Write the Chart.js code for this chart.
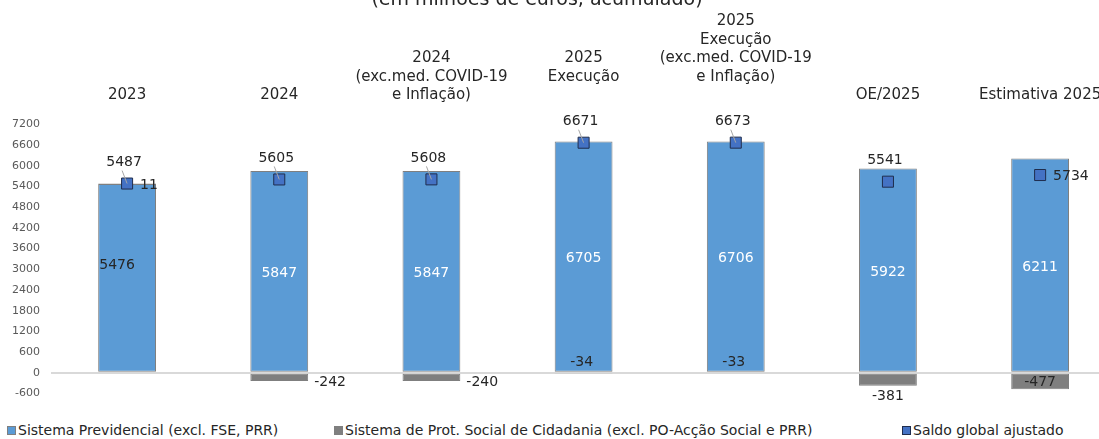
<!DOCTYPE html>
<html lang="pt">
<head>
<meta charset="utf-8">
<title>Saldo global ajustado</title>
<script src="https://cdn.jsdelivr.net/npm/chart.js@4.4.1/dist/chart.umd.min.js"></script>
<style>
    html, body { margin: 0; padding: 0; background: #fff; overflow: hidden; }
    body { width: 1099px; height: 439px; position: relative; font-family: 'DejaVu Sans', sans-serif; }
    #wrap { position: absolute; left: 0; top: -8px; width: 1125px; height: 419px; }
    #legend { position: absolute; left: 0; top: 422px; width: 1099px; height: 16px; font-size: 14px; line-height: 16px; color: #262626; white-space: nowrap; }
    .item { position: absolute; top: 0; display: flex; align-items: center; }
    .box { width: 7px; height: 7px; margin-right: 2px; border: 1px solid; }
</style>
</head>
<body>
<div id="wrap"><canvas id="saldoChart"></canvas></div>
<div id="legend"></div>

<script>
// Categories (top axis labels)
const categories = [
    ['2023'],
    ['2024'],
    ['2024', '(exc.med. COVID-19', 'e Inflação)'],
    ['2025', 'Execução'],
    ['2025', 'Execução', '(exc.med. COVID-19', 'e Inflação)'],
    ['OE/2025'],
    ['Estimativa 2025']
];
// labels that sit one line higher in the original
const raisedLabels = [false, false, false, true, true, false, false];

// Series values (milhões de euros)
const previdencial = [5476, 5847, 5847, 6705, 6706, 5922, 6211];
const cidadania = [11, -242, -240, -34, -33, -381, -477];
const saldoAjustado = [5487, 5605, 5608, 6671, 6673, 5541, 5734];

// Y axis ticks
const yMin = -600;
const yMax = 7200;
const yStep = 600;

// where each data label goes
const previdencialLabelPos = ['left', 'center', 'center', 'center', 'center', 'center', 'center'];
const cidadaniaLabelPos = ['marker', 'right', 'right', 'above', 'above', 'below', 'inside'];
const saldoLabelPos = ['above', 'above', 'above', 'above', 'above', 'above', 'right'];

const FONT = "'DejaVu Sans', sans-serif";
const TEXT = '#262626';

const seriesNames = [
    'Sistema Previdencial (excl. FSE, PRR)',
    'Sistema de Prot. Social de Cidadania (excl. PO-Acção Social e PRR)',
    'Saldo global ajustado'
];
const legendLefts = [7, 334, 902];

/**
 * Title, only its lower part is inside the picture
 */
const cutTitle = {
    id: 'cutTitle',
    afterDraw(chart) {
        const { ctx } = chart;
        ctx.save();
        ctx.font = '19px ' + FONT;
        ctx.fillStyle = TEXT;
        ctx.textAlign = 'center';
        ctx.textBaseline = 'alphabetic';
        ctx.fillText('(em milhões de euros, acumulado)', 537, 13);
        ctx.restore();
    }
};

/**
 * Data labels for the three series
 */
const valueLabels = {
    id: 'valueLabels',
    afterDatasetsDraw(chart) {
        const { ctx } = chart;
        const zeroY = chart.scales.y.getPixelForValue(0);
        const barsA = chart.getDatasetMeta(0).data;
        const barsB = chart.getDatasetMeta(1).data;
        const points = chart.getDatasetMeta(2).data;

        ctx.save();
        ctx.font = '14px ' + FONT;
        ctx.textBaseline = 'middle';

        // Sistema Previdencial
        barsA.forEach((bar, i) => {
            const p = bar.getProps(['x', 'y', 'base'], true);
            const mid = (p.y + p.base) / 2;
            ctx.textAlign = 'center';
            if (previdencialLabelPos[i] === 'left') {
                ctx.fillStyle = TEXT;
                ctx.fillText(String(previdencial[i]), p.x - 10, mid - 12);
            } else {
                ctx.fillStyle = '#ffffff';
                ctx.fillText(String(previdencial[i]), p.x, mid + 2);
            }
        });

        // Sistema de Prot. Social de Cidadania
        barsB.forEach((bar, i) => {
            const p = bar.getProps(['x', 'y', 'base', 'width'], true);
            const pos = cidadaniaLabelPos[i];
            const txt = String(cidadania[i]);
            ctx.fillStyle = TEXT;
            if (pos === 'marker') {
                ctx.textAlign = 'left';
                ctx.fillText(txt, points[i].x + 13, points[i].y + 2);
            } else if (pos === 'right') {
                ctx.textAlign = 'left';
                ctx.fillText(txt, p.x + p.width / 2 + 6, p.y + 1);
            } else if (pos === 'above') {
                ctx.textAlign = 'center';
                ctx.fillText(txt, p.x - 2, zeroY - 10);
            } else if (pos === 'below') {
                ctx.textAlign = 'center';
                ctx.fillText(txt, p.x, p.y + 11);
            } else {
                ctx.textAlign = 'center';
                ctx.fillText(txt, p.x, (p.y + p.base) / 2 + 1);
            }
        });

        // Saldo global ajustado
        points.forEach((pt, i) => {
            const txt = String(saldoAjustado[i]);
            ctx.fillStyle = TEXT;
            if (saldoLabelPos[i] === 'right') {
                ctx.textAlign = 'left';
                ctx.fillText(txt, pt.x + 13, pt.y + 1);
            } else {
                const lx = pt.x - 3;
                const ly = pt.y - 21;
                ctx.textAlign = 'center';
                ctx.fillText(txt, lx, ly);
                // little leader line
                if (i < 5) {
                    ctx.strokeStyle = '#a6a6a6';
                    ctx.lineWidth = 1;
                    ctx.beginPath();
                    ctx.moveTo(lx - 2, ly + 8);
                    ctx.lineTo(pt.x, pt.y);
                    ctx.stroke();
                }
            }
        });
        ctx.restore();
    }
};

const chart = new Chart(document.getElementById('saldoChart'), {
    type: 'bar',
    data: {
        labels: categories,
        datasets: [
            {
                label: seriesNames[0],
                data: previdencial,
                backgroundColor: '#5B9BD5',
                borderColor: '#7F7F7F',
                borderWidth: 1,
                borderSkipped: false,
                stack: 'sistemas',
                barPercentage: 0.38,
                categoryPercentage: 1
            },
            {
                label: seriesNames[1],
                data: cidadania,
                backgroundColor: '#7F7F7F',
                borderColor: '#7F7F7F',
                borderWidth: 1,
                borderSkipped: false,
                stack: 'sistemas',
                barPercentage: 0.38,
                categoryPercentage: 1
            },
            {
                type: 'line',
                label: seriesNames[2],
                data: saldoAjustado,
                showLine: false,
                pointStyle: 'rect',
                pointRadius: 7.8,
                pointHoverRadius: 7.8,
                pointBackgroundColor: '#4472C4',
                pointBorderColor: '#1F2D4D',
                pointBorderWidth: 1,
                stack: 'saldo',
                order: -1
            }
        ]
    },
    options: {
        responsive: true,
        maintainAspectRatio: false,
        animation: false,
        layout: { padding: { top: 0, right: 0, bottom: 0, left: 0 } },
        plugins: {
            legend: { display: false },
            title: { display: false },
            tooltip: { enabled: false }
        },
        scales: {
            x: {
                position: 'top',
                stacked: true,
                grid: { display: false, drawTicks: false },
                border: { display: false },
                ticks: {
                    maxRotation: 0,
                    autoSkip: false,
                    padding: 20,
                    color: TEXT,
                    font: { family: FONT, size: 15, lineHeight: 1.233 },
                    callback: function(value, index) {
                        const lines = categories[index].slice();
                        if (raisedLabels[index]) lines.push('');
                        return lines;
                    }
                }
            },
            y: {
                stacked: true,
                min: yMin,
                max: yMax,
                ticks: {
                    stepSize: yStep,
                    padding: 11,
                    color: '#595959',
                    font: { family: FONT, size: 11 },
                    callback: value => String(value)
                },
                grid: {
                    drawTicks: false,
                    lineWidth: 2,
                    color: c => (c.tick && c.tick.value === 0 ? '#D9D9D9' : 'rgba(0,0,0,0)')
                },
                border: { display: false },
                afterFit: axis => { axis.width = 51; }
            }
        }
    },
    plugins: [cutTitle, valueLabels]
});

// HTML legend built from the chart's datasets
const legendEl = document.getElementById('legend');
chart.data.datasets.forEach((ds, i) => {
    const item = document.createElement('span');
    item.className = 'item';
    item.style.left = legendLefts[i] + 'px';
    const box = document.createElement('span');
    box.className = 'box';
    const fill = ds.type === 'line' ? ds.pointBackgroundColor : ds.backgroundColor;
    const edge = ds.type === 'line' ? ds.pointBorderColor : ds.borderColor;
    box.style.background = fill;
    box.style.borderColor = edge;
    item.appendChild(box);
    item.appendChild(document.createTextNode(ds.label));
    legendEl.appendChild(item);
});
</script>
</body>
</html>
